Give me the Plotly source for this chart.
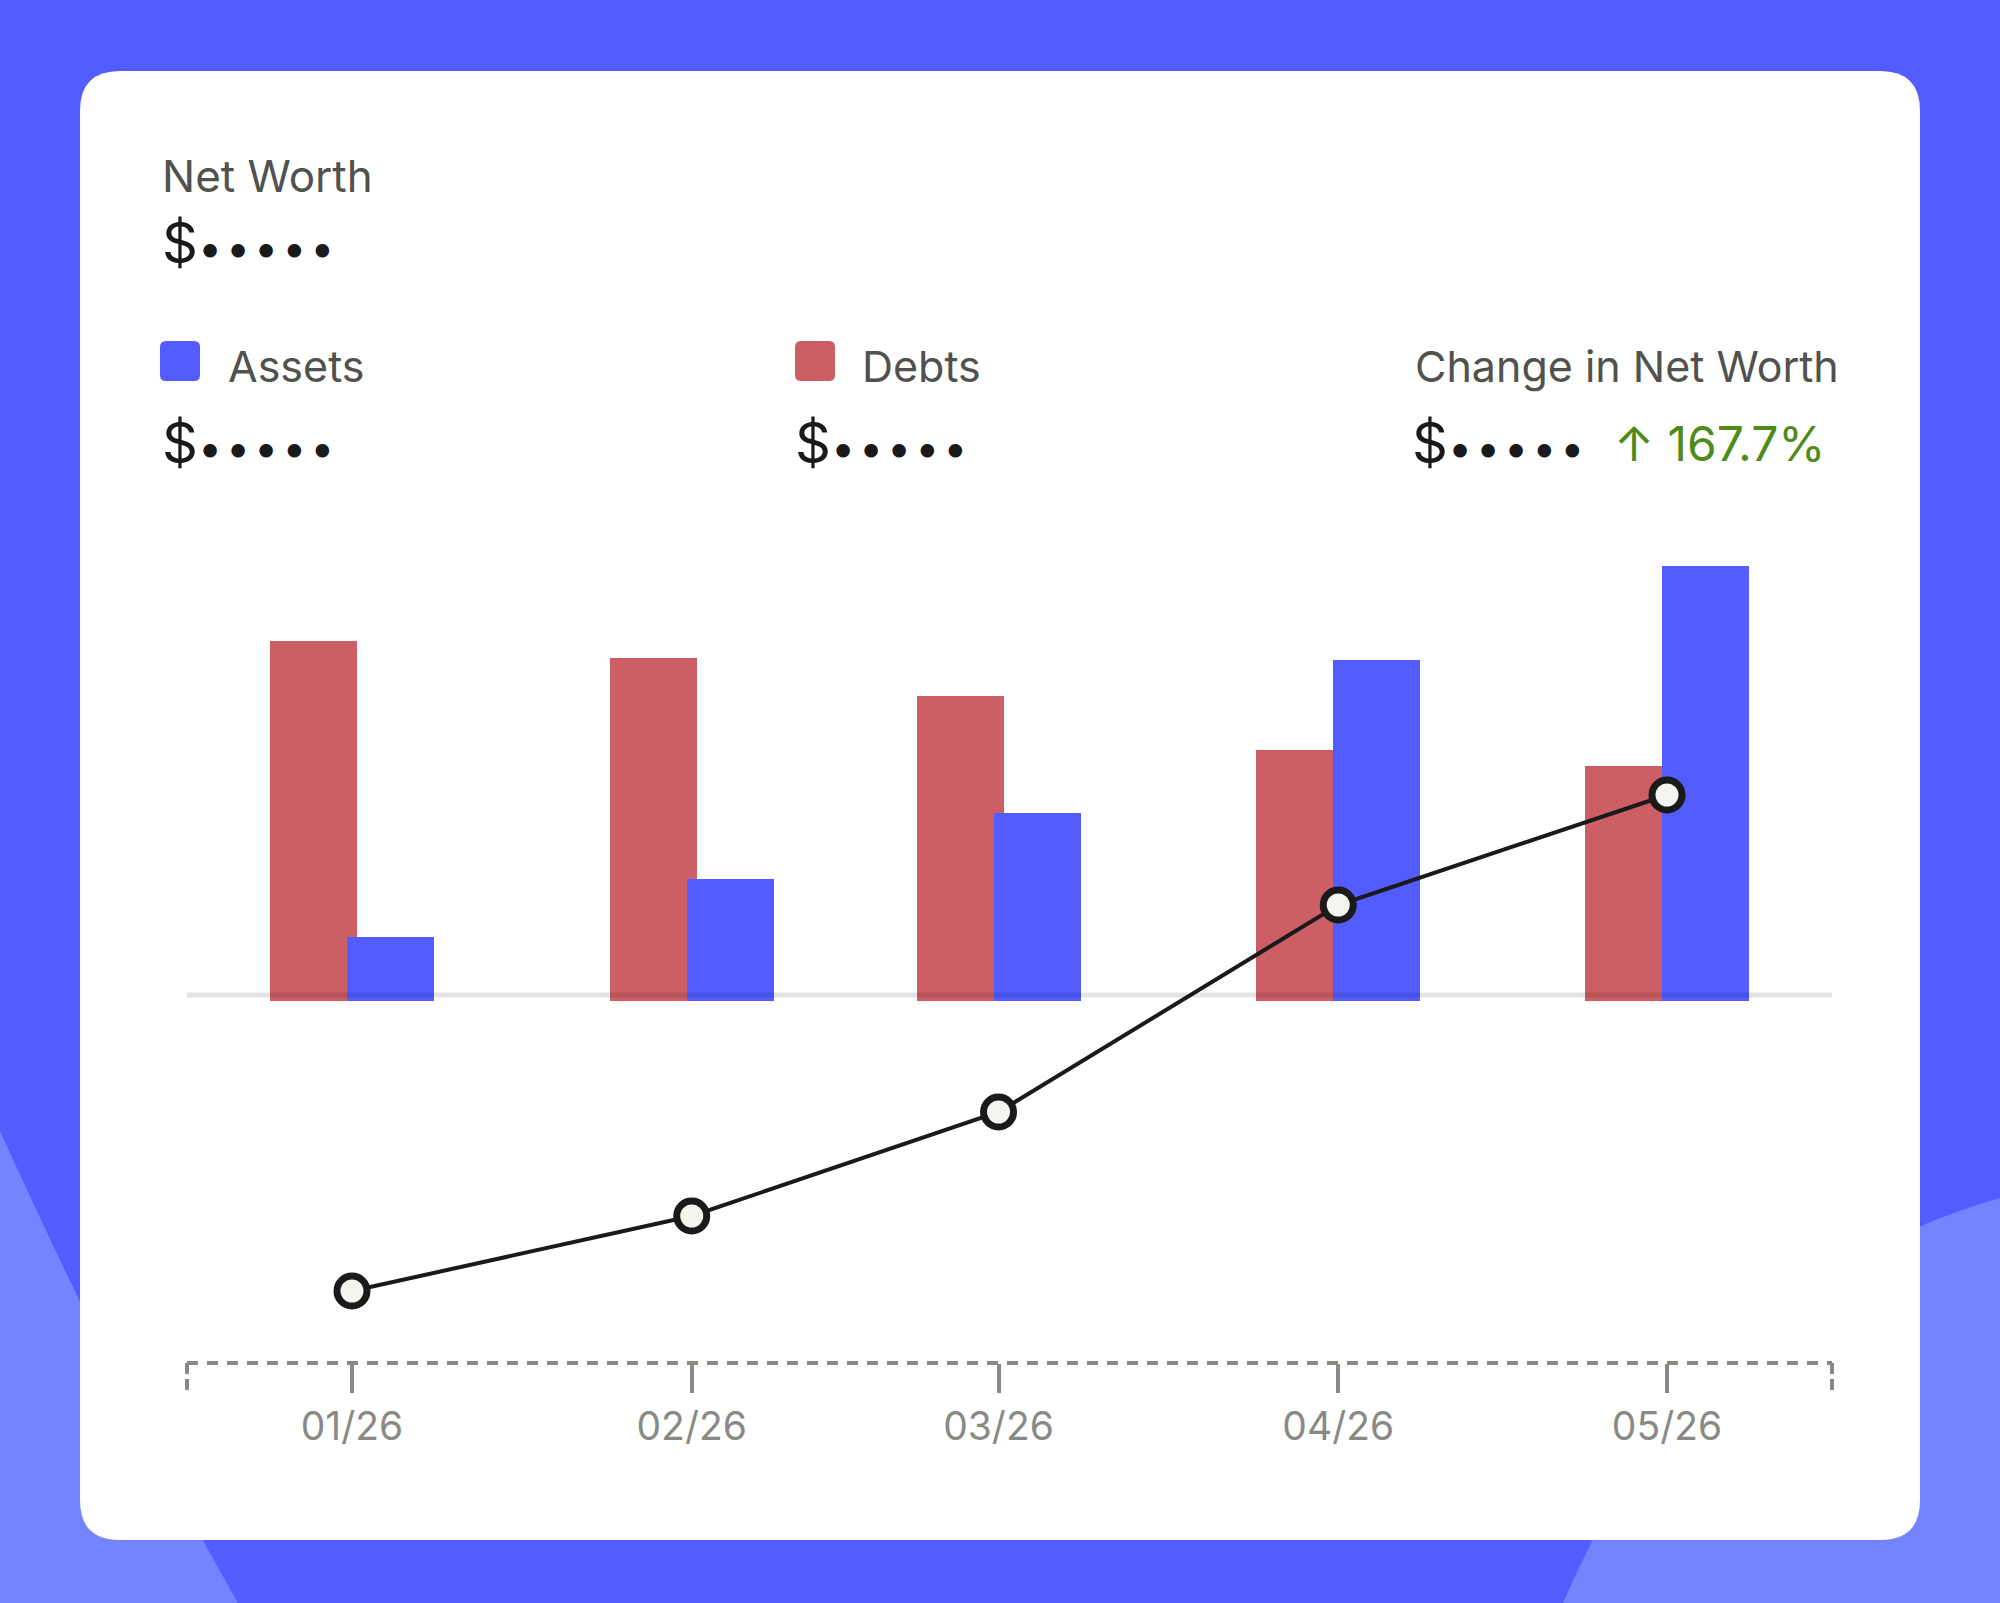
import plotly.graph_objects as go
import pandas as pd

# ---------------- data ----------------
months = ["2026-01-01", "2026-02-01", "2026-03-01", "2026-04-01", "2026-05-01"]
assets = [5800, 11600, 18200, 33500, 42900]
debts = [35400, 33700, 29900, 24500, 22900]
net_worth = [a - d for a, d in zip(assets, debts)]

title_net = "Net Worth"
label_assets = "Assets"
label_debts = "Debts"
label_change = "Change in Net Worth"
masked_value = "$•••••"
change_pct = "↑ 167.7%"

# ---------------- layout geometry ----------------
W, H = 2000, 1603
L, R, T, B = 187, 168, 500, 240
PW, PH = W - L - R, H - T - B

def px(x):
    return (x - L) / PW

def py(y):
    return (H - B - y) / PH

BLUE = "#525CFF"
LIGHT = "#7683FF"
RED = "#CD5E65"
INK = "#1a1a1a"
GREY_TXT = "#51514d"
AXIS_GREY = "#8a8a85"
GREEN = "#4f8a1b"
FONT = "Inter"

DAY_MS = 86400000
PX_PER_DAY = 1315 / 120.0

def ms(pixels):
    return pixels / PX_PER_DAY * DAY_MS

BAR_W = ms(87)
RED_OFF = -ms(82)
BLUE_OFF = -ms(5)
BAR_PAD = 600  # bars start slightly below zero

t0 = pd.Timestamp(months[0]) - pd.Timedelta(days=165 / PX_PER_DAY)
t1 = pd.Timestamp(months[-1]) + pd.Timedelta(days=165 / PX_PER_DAY)

fig = go.Figure()

fig.add_trace(go.Bar(
    x=months, y=[d + BAR_PAD for d in debts], base=[-BAR_PAD] * len(debts),
    marker=dict(color=RED, line=dict(width=0)),
    width=[BAR_W] * len(months), offset=RED_OFF, name=label_debts,
))
fig.add_trace(go.Bar(
    x=months, y=[a + BAR_PAD for a in assets], base=[-BAR_PAD] * len(assets),
    marker=dict(color=BLUE, line=dict(width=0)),
    width=[BAR_W] * len(months), offset=BLUE_OFF, name=label_assets,
))
fig.add_trace(go.Scatter(
    x=months, y=net_worth, mode="lines+markers",
    line=dict(color=INK, width=4),
    marker=dict(size=30, color="#f5f5f0", line=dict(color=INK, width=7)),
    name=title_net,
))

# ---------------- shapes ----------------
def P(x, y):
    return f"{px(x)},{py(y)}"

def rrect(x0, y0, x1, y1, r):
    return (f"M {P(x0 + r, y0)} L {P(x1 - r, y0)} Q {P(x1, y0)} {P(x1, y0 + r)} "
            f"L {P(x1, y1 - r)} Q {P(x1, y1)} {P(x1 - r, y1)} "
            f"L {P(x0 + r, y1)} Q {P(x0, y1)} {P(x0, y1 - r)} "
            f"L {P(x0, y0 + r)} Q {P(x0, y0)} {P(x0 + r, y0)} Z")

shapes = []
# light background blobs
shapes.append(dict(type="path", xref="paper", yref="paper", layer="below",
                   path=f"M {P(0, 1131)} Q {P(123, 1402)} {P(238, 1603)} L {P(0, 1603)} Z",
                   fillcolor=LIGHT, line=dict(width=0)))
shapes.append(dict(type="path", xref="paper", yref="paper", layer="below",
                   path=f"M {P(2000, 1198)} Q {P(1700, 1284)} {P(1563, 1603)} L {P(2000, 1603)} Z",
                   fillcolor=LIGHT, line=dict(width=0)))
# white card
shapes.append(dict(type="path", xref="paper", yref="paper", layer="below",
                   path=rrect(80, 71, 1920, 1540, 40),
                   fillcolor="white", line=dict(width=0)))
# legend swatches
shapes.append(dict(type="path", xref="paper", yref="paper", layer="below",
                   path=rrect(160, 341, 200, 381, 6), fillcolor=BLUE, line=dict(width=0)))
shapes.append(dict(type="path", xref="paper", yref="paper", layer="below",
                   path=rrect(795, 341, 835, 381, 6), fillcolor=RED, line=dict(width=0)))
# zero line
shapes.append(dict(type="line", xref="paper", yref="y", x0=0, x1=1, y0=0, y1=0,
                   layer="above", line=dict(color="rgba(0,0,0,0.105)", width=5)))
# dashed axis line
shapes.append(dict(type="line", xref="paper", yref="paper", x0=0, x1=1, y0=0, y1=0,
                   layer="above", line=dict(color=AXIS_GREY, width=4, dash="11px,9px")))
for xe in (0, 1):
    shapes.append(dict(type="line", xref="paper", yref="paper", x0=xe, x1=xe,
                       y0=0, y1=-29 / PH, layer="above",
                       line=dict(color=AXIS_GREY, width=4, dash="11px,5px")))

# ---------------- annotations ----------------
def masked(text):
    head, dots = text[0], text[1:]
    return head + "<span style='font-size:43px'>" + "\u200a".join(dots) + "</span>"

def ann(text, x, y, size, color, xanchor="left"):
    return dict(text=text, x=px(x), y=py(y), xref="paper", yref="paper",
                xanchor=xanchor, yanchor="middle", showarrow=False, borderpad=0,
                font=dict(family=FONT, size=size, color=color))

annotations = [
    ann(title_net, 161, 175.5, 44, GREY_TXT),
    ann(masked(masked_value), 161, 243, 56, INK),
    ann(label_assets, 227, 365.5, 43, GREY_TXT),
    ann(masked(masked_value), 161, 443, 56, INK),
    ann(label_debts, 861, 365.5, 43, GREY_TXT),
    ann(masked(masked_value), 794, 443, 56, INK),
    ann(label_change, 1840, 365.5, 43, GREY_TXT, "right"),
    ann(masked(masked_value), 1411, 443, 56, INK),
    ann(change_pct, 1826, 443.5, 48, GREEN, "right"),
]

fig.update_layout(
    width=W, height=H, autosize=False,
    margin=dict(l=L, r=R, t=T, b=B, pad=0),
    paper_bgcolor=BLUE, plot_bgcolor="rgba(0,0,0,0)",
    barmode="overlay", bargap=0, showlegend=False,
    shapes=shapes, annotations=annotations,
    font=dict(family=FONT),
    xaxis=dict(type="date", range=[t0.isoformat(), t1.isoformat()],
               tickvals=months, tickformat="%m/%y",
               ticks="outside", ticklen=29, tickwidth=4, tickcolor=AXIS_GREY,
               tickfont=dict(family=FONT, size=39, color=AXIS_GREY),
               showgrid=False, zeroline=False, showline=False, fixedrange=True),
    yaxis=dict(range=[-(H - B - 995) * 100, (995 - T) * 100], visible=False,
               showgrid=False, zeroline=False, fixedrange=True),
)

fig.write_html("out.html")
